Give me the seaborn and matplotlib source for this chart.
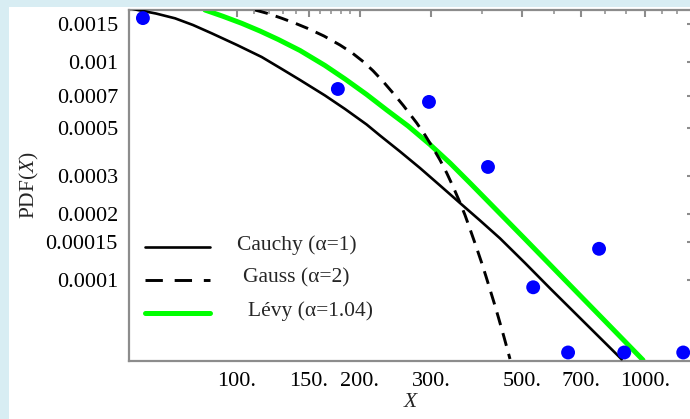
import numpy as np
import pandas as pd
import matplotlib
matplotlib.use("Agg")
import matplotlib.pyplot as plt
from matplotlib.patches import Rectangle
from matplotlib.lines import Line2D
from matplotlib.ticker import FixedLocator, FixedFormatter, NullFormatter
import seaborn as sns

# Observed sample (blue dots)
obs_x = [58.9, 177, 296, 413, 533, 649, 773, 891, 1243]
obs_pdf = [1.59e-3, 7.52e-4, 6.56e-4, 3.30e-4, 9.26e-5, 4.65e-5, 1.39e-4, 4.65e-5, 4.65e-5]

# Fitted densities
cauchy_x = [54.45, 56.96, 63.42, 70.61, 78.15, 86.85, 100.17, 115.15, 128.4, 142.96, 164.6,
            184.3, 208.2, 224.5, 251.3, 281.3, 315.0, 352.6, 394.8, 441.9, 508.9, 586.1,
            714.1, 878.3]
cauchy_pdf = [1.7687e-3, 1.735e-3, 1.6686e-3, 1.5862e-3, 1.4779e-3, 1.3539e-3, 1.1967e-3,
              1.0542e-3, 9.336e-4, 8.269e-4, 7.020e-4, 6.087e-4, 5.167e-4, 4.600e-4,
              3.886e-4, 3.264e-4, 2.714e-4, 2.255e-4, 1.875e-4, 1.553e-4, 1.197e-4,
              9.16e-5, 6.35e-5, 4.327e-5]

gauss_x = [110.9, 119.3, 129.1, 139.0, 149.5, 163.7, 179.1, 191.7, 204.3, 215.9, 228.7,
           241.6, 256.1, 276.2, 289.4, 303.3, 315.0, 327.2, 339.0, 352.6, 362.7, 373.1,
           385.9, 398.6, 408.4, 417.7, 427.3, 437.7, 452.0, 467.6]
gauss_pdf = [1.732e-3, 1.6686e-3, 1.5862e-3, 1.5064e-3, 1.4245e-3, 1.3155e-3, 1.1967e-3,
             1.1020e-3, 1.0032e-3, 9.112e-4, 8.122e-4, 7.208e-4, 6.316e-4, 5.251e-4,
             4.624e-4, 4.011e-4, 3.552e-4, 3.096e-4, 2.685e-4, 2.266e-4, 1.9866e-4,
             1.7141e-4, 1.4318e-4, 1.197e-4, 1.0377e-4, 9.047e-5, 7.881e-5, 6.766e-5,
             5.477e-5, 4.341e-5]

levy_x = [83.6, 92.56, 102.86, 114.04, 126.45, 142.96, 164.6, 184.3, 208.2, 233.2, 263.0,
          297.7, 333.3, 373.1, 410.0, 508.9, 630.6, 790.4, 990.4]
levy_pdf = [1.7320e-3, 1.6205e-3, 1.5050e-3, 1.3873e-3, 1.2683e-3, 1.1291e-3, 9.637e-4,
            8.356e-4, 7.095e-4, 6.023e-4, 5.087e-4, 4.182e-4, 3.441e-4, 2.786e-4,
            2.328e-4, 1.542e-4, 1.0213e-4, 6.624e-5, 4.295e-5]

legend_labels = ["Cauchy (\u03b1=1)", "Gauss (\u03b1=2)", "L\u00e9vy (\u03b1=1.04)"]

x_major = [100, 150, 200, 300, 500, 700, 1000]
x_major_labels = ["100.", "150.", "200.", "300.", "500.", "700.", "1000."]
x_minor = [110, 120, 130, 140, 160, 170, 180, 190, 400, 600, 800, 900, 1100, 1200]

y_major = [0.0015, 0.001, 0.0007, 0.0005, 0.0003, 0.0002, 0.00015, 0.0001]
y_major_labels = ["0.0015", "0.001", "0.0007", "0.0005", "0.0003", "0.0002", "0.00015", "0.0001"]
y_minor = [0.0017, 0.0016, 0.0014, 0.0013, 0.0012, 0.0011, 0.0009, 0.0008, 0.0006, 0.0004,
           0.00019, 0.00018, 0.00017, 0.00016, 0.00014, 0.00013, 0.00012, 0.00011]

sns.set_style("white")
plt.rcParams["font.family"] = ["Liberation Serif", "DejaVu Serif"]
plt.rcParams["mathtext.fontset"] = "custom"
plt.rcParams["mathtext.rm"] = "Liberation Serif"
plt.rcParams["mathtext.it"] = "Liberation Serif:italic"
plt.rcParams["lines.scale_dashes"] = False

W, H = 690, 419
fig = plt.figure(figsize=(W / 100, H / 100), dpi=100)
fig.patch.set_facecolor("#d8edf3")
fig.add_artist(Rectangle((9 / W, 0), 1, 1 - 7 / H, transform=fig.transFigure,
                         facecolor="white", edgecolor="none", zorder=0))

left, right, top, bottom = 129, 694, 10, 361
ax = fig.add_axes([left / W, 1 - bottom / H, (right - left) / W, (bottom - top) / H])
ax.set_facecolor("white")

gray = "#8c8c8c"

sns.lineplot(x=levy_x, y=levy_pdf, ax=ax, color="#00ff00", lw=3.6, sort=False,
             estimator=None, legend=False, zorder=2)
sns.lineplot(x=cauchy_x, y=cauchy_pdf, ax=ax, color="black", lw=1.9, sort=False,
             estimator=None, legend=False, zorder=3)
sns.lineplot(x=gauss_x, y=gauss_pdf, ax=ax, color="black", lw=2.1, sort=False,
             estimator=None, legend=False, zorder=3)
ax.lines[-1].set_dashes((9.5, 6.0))
sns.scatterplot(x=obs_x, y=obs_pdf, ax=ax, color="#0000ff", s=100, edgecolor="none",
                linewidth=0, legend=False, zorder=4)

ax.set_xscale("log")
ax.set_yscale("log")
ax.set_xlim(54.45, 1321)
ax.set_ylim(4.25e-5, 1.732e-3)

ax.xaxis.set_major_locator(FixedLocator(x_major))
ax.xaxis.set_major_formatter(FixedFormatter(x_major_labels))
ax.xaxis.set_minor_locator(FixedLocator(x_minor))
ax.xaxis.set_minor_formatter(NullFormatter())
ax.yaxis.set_major_locator(FixedLocator(y_major))
ax.yaxis.set_major_formatter(FixedFormatter(y_major_labels))
ax.yaxis.set_minor_locator(FixedLocator(y_minor))
ax.yaxis.set_minor_formatter(NullFormatter())

for s in ax.spines.values():
    s.set_color(gray)
    s.set_linewidth(1.6)
    s.set_visible(True)

ax.tick_params(which="both", direction="in", color=gray, top=True, right=True,
               labelsize=16, labelcolor="black")
ax.tick_params(which="major", length=5.2, width=1.5, pad=8)
ax.tick_params(which="minor", length=3, width=1.1)

ax.set_xlabel(r"$X$", fontsize=15.5, labelpad=1)
ax.set_ylabel(r"PDF($X$)", fontsize=15.5, labelpad=3)

# Legend drawn in axes coordinates
x0, x1 = (145 - left) / (right - left), (210 - left) / (right - left)
rows = [247, 280, 313]
text_x = [237, 243, 248]
styles = [dict(color="black", lw=1.9),
          dict(color="black", lw=2.1, dashes=(12.5, 8.5)),
          dict(color="#00ff00", lw=3.6)]
for r, tx, lab, st in zip(rows, text_x, legend_labels, styles):
    yf = (bottom - r) / (bottom - top)
    ln = Line2D([x0, x1], [yf, yf], transform=ax.transAxes, solid_capstyle="round",
                dash_capstyle="butt", **st)
    ax.add_artist(ln)
    ax.text((tx - left) / (right - left), yf + 2 / (bottom - top), lab,
            transform=ax.transAxes, ha="left", va="center", fontsize=15.5)

fig.savefig("out.png", dpi=100, facecolor=fig.get_facecolor())
